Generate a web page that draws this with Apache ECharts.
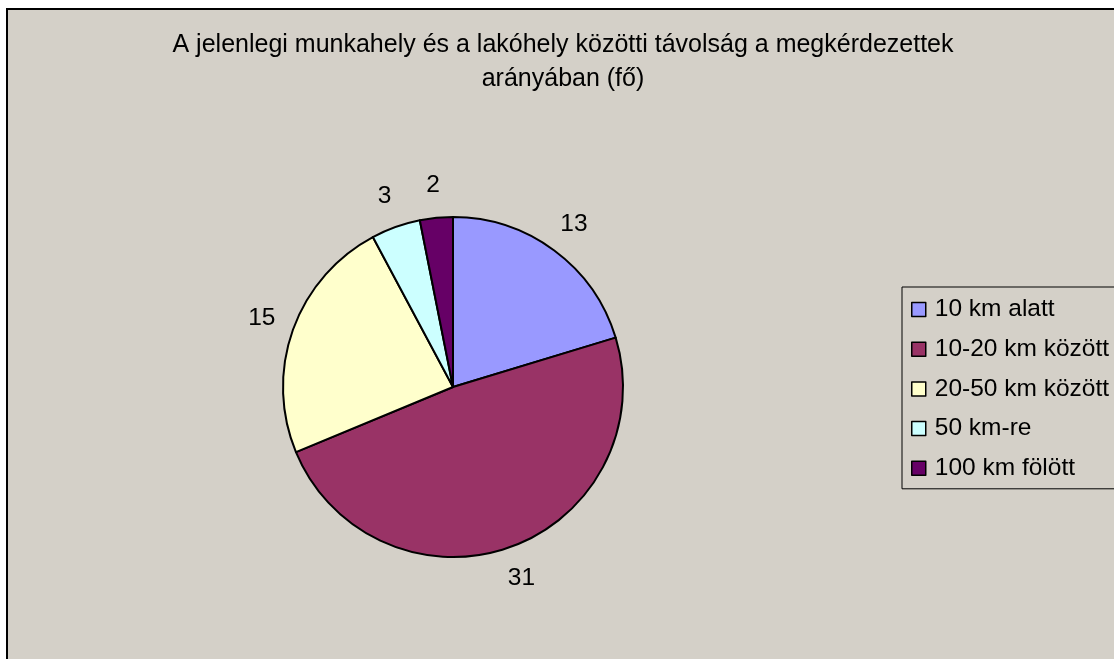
<!DOCTYPE html>
<html>
<head>
<meta charset="utf-8">
<script src="https://cdn.jsdelivr.net/npm/echarts@6/dist/echarts.min.js"></script>
<style>
  html, body { margin: 0; padding: 0; background: #fff; }
  #chart { width: 1114px; height: 659px; }
</style>
</head>
<body>
<div id="chart"></div>
<script>
  // adatok
  var categories = ['10 km alatt', '10-20 km között', '20-50 km között', '50 km-re', '100 km fölött'];
  var values = [13, 31, 15, 3, 2];
  var colorList = ['#9999FF', '#993366', '#FFFFCC', '#CCFFFF', '#660066'];
  var titleText = 'A jelenlegi munkahely és a lakóhely közötti távolság a megkérdezettek\narányában (fő)';

  var font = '"Liberation Sans", Arial, sans-serif';

  var pieData = categories.map(function (name, i) {
    return { name: name, value: values[i], itemStyle: { color: colorList[i] } };
  });

  var myChart = echarts.init(document.getElementById('chart'));
  var option = {
    animation: false,
    title: {
      text: titleText,
      left: 563,
      top: 28,
      padding: 0,
      textAlign: 'center',
      textStyle: {
        fontFamily: font,
        fontSize: 25,
        fontWeight: 'normal',
        color: '#000',
        lineHeight: 34
      }
    },
    graphic: [{
      type: 'rect',
      z: -10,
      silent: true,
      shape: { x: 7, y: 9, width: 1130, height: 670 },
      style: { fill: '#D4D0C8', stroke: '#000', lineWidth: 2 }
    }],
    legend: {
      orient: 'vertical',
      left: 902,
      top: 287,
      padding: [10, 40, 8, 9],
      itemGap: 14.7,
      itemWidth: 14,
      itemHeight: 14,
      icon: 'rect',
      backgroundColor: '#D4D0C8',
      borderColor: '#000',
      borderWidth: 1,
      data: categories,
      itemStyle: { borderColor: '#000', borderWidth: 1.5 },
      textStyle: {
        fontFamily: font,
        fontSize: 24.5,
        lineHeight: 25,
        color: '#000',
        padding: [0, 0, 0, 4]
      }
    },
    series: [
      {
        type: 'pie',
        center: [453, 387],
        radius: 170,
        startAngle: 90,
        clockwise: true,
        emphasis: { disabled: true },
        itemStyle: { borderColor: '#000', borderWidth: 2 },
        label: { show: false },
        labelLine: { show: false },
        data: pieData
      },
      {
        // csak a címkék, a cikkek közepén kívül
        type: 'pie',
        center: [453, 387],
        radius: [185, 215],
        startAngle: 90,
        clockwise: true,
        silent: true,
        emphasis: { disabled: true },
        itemStyle: { color: 'rgba(0,0,0,0)', borderWidth: 0 },
        label: {
          show: true,
          position: 'inside',
          formatter: '{c}',
          fontFamily: font,
          fontSize: 24.5,
          color: '#000'
        },
        labelLine: { show: false },
        data: categories.map(function (name, i) {
          return { name: name, value: values[i] };
        })
      }
    ]
  };
  myChart.setOption(option);
</script>
</body>
</html>
